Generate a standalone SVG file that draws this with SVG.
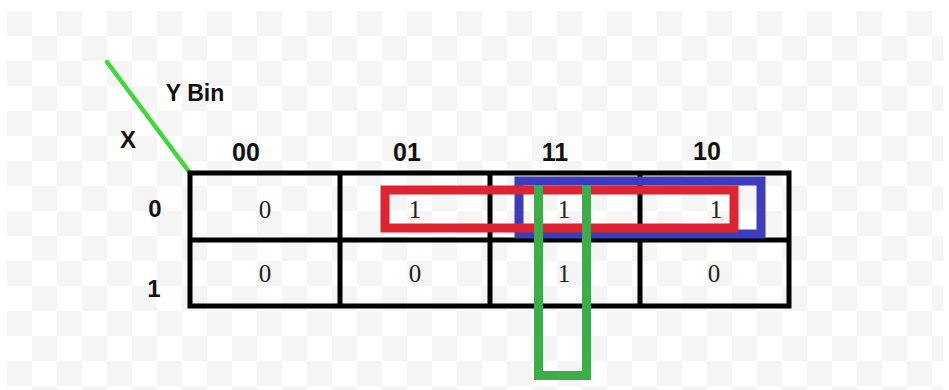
<svg xmlns="http://www.w3.org/2000/svg" width="949" height="390" viewBox="0 0 949 390">
  <defs>
    <pattern id="checker" x="7" y="11" width="50" height="50" patternUnits="userSpaceOnUse">
      <rect width="50" height="50" fill="#ffffff"/>
      <rect width="25" height="25" fill="#f5f5f5"/>
      <rect x="25" y="25" width="25" height="25" fill="#f5f5f5"/>
    </pattern>
    <style>
      .grid { fill: none; stroke: #000; stroke-width: 5; }
      .hdr { font-family: "Liberation Sans", Arial, sans-serif; font-weight: bold; fill: #111; text-anchor: middle; }
      .val { font-family: "Liberation Serif", "Times New Roman", serif; font-size: 25px; fill: #222; text-anchor: middle; }
      .grp { fill: none; stroke-width: 9; }
    </style>
  </defs>
  <rect width="949" height="390" fill="#ffffff"/>
  <rect x="7" y="11" width="936" height="379" fill="url(#checker)"/>

  <g id="corner">
    <line x1="107" y1="62" x2="190" y2="173" stroke="#3fd83a" stroke-width="4.5" stroke-linecap="round"/>
    <text class="hdr" x="195" y="101" font-size="23">Y Bin</text>
    <text class="hdr" x="128" y="148" font-size="24">X</text>
  </g>

  <g id="col-headers">
    <text class="hdr" x="246" y="161" font-size="25">00</text>
    <text class="hdr" x="407" y="161" font-size="25">01</text>
    <text class="hdr" x="555" y="161" font-size="25">11</text>
    <text class="hdr" x="707" y="160" font-size="25">10</text>
  </g>

  <g id="row-headers">
    <text class="hdr" x="155" y="217" font-size="24">0</text>
    <text class="hdr" x="154" y="297" font-size="24">1</text>
  </g>

  <g id="grid">
    <rect class="grid" x="190" y="173" width="599" height="133"/>
    <line class="grid" x1="190" y1="240" x2="789" y2="240"/>
    <line class="grid" x1="340" y1="173" x2="340" y2="306"/>
    <line class="grid" x1="490" y1="173" x2="490" y2="306"/>
    <line class="grid" x1="640" y1="173" x2="640" y2="306"/>
  </g>

  <g id="cells">
    <text class="val" x="265" y="218">0</text>
    <text class="val" x="415" y="218">1</text>
    <text class="val" x="564" y="218">1</text>
    <text class="val" x="716" y="218">1</text>
    <text class="val" x="265" y="282">0</text>
    <text class="val" x="415" y="282">0</text>
    <text class="val" x="564" y="282">1</text>
    <text class="val" x="714" y="282">0</text>
  </g>

  <g id="groups">
    <rect id="group-blue" class="grp" x="519" y="181" width="242" height="53" stroke="#3c3cbc"/>
    <rect id="group-red" class="grp" x="385" y="190" width="349" height="38" stroke="#de2430"/>
    <path id="group-green" class="grp" d="M538.5,186 V375.5 H586.5 V186" stroke="#3aaf48"/>
  </g>
</svg>
